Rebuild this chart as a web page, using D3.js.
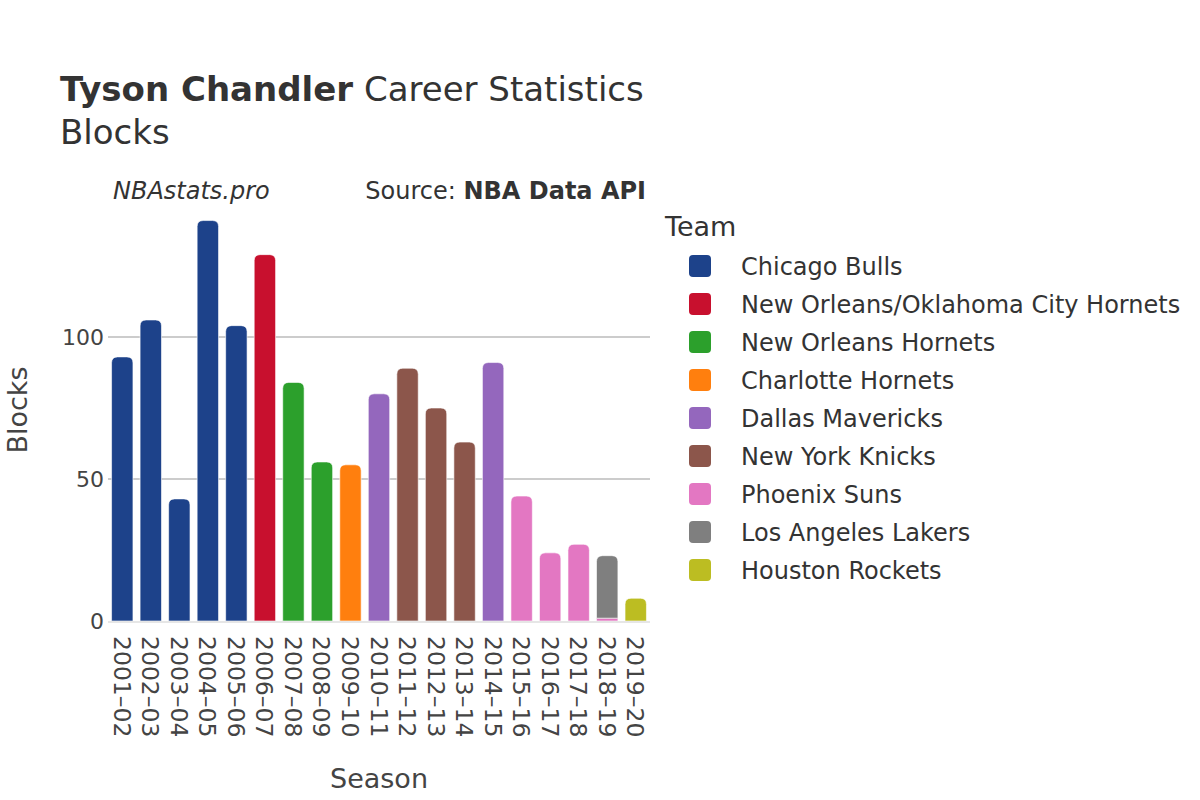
<!DOCTYPE html>
<html>
<head>
<meta charset="utf-8">
<script src="https://cdn.jsdelivr.net/npm/d3@7"></script>
<style>
  html, body { margin: 0; padding: 0; background: #fff; }
  svg { display: block; font-family: "DejaVu Sans", sans-serif; }
</style>
</head>
<body>
<svg id="chart" width="1200" height="800"></svg>
<script>
// ---- data ----
const seasons = ["2001–02","2002–03","2003–04","2004–05","2005–06","2006–07","2007–08","2008–09","2009–10","2010–11","2011–12","2012–13","2013–14","2014–15","2015–16","2016–17","2017–18","2018–19","2019–20"];
const teams = ["Chicago Bulls","New Orleans/Oklahoma City Hornets","New Orleans Hornets","Charlotte Hornets","Dallas Mavericks","New York Knicks","Phoenix Suns","Los Angeles Lakers","Houston Rockets"];
const teamColors = ["#1d428a","#c8102e","#2ca02c","#ff7f0e","#9467bd","#8c564b","#e377c2","#7f7f7f","#bcbd22"];
// blocks per season entry: [season, team, value]
const entrySeason = ["2001–02","2002–03","2003–04","2004–05","2005–06","2006–07","2007–08","2008–09","2009–10","2010–11","2011–12","2012–13","2013–14","2014–15","2015–16","2016–17","2017–18","2018–19","2018–19","2019–20"];
const entryTeam = ["Chicago Bulls","Chicago Bulls","Chicago Bulls","Chicago Bulls","Chicago Bulls","New Orleans/Oklahoma City Hornets","New Orleans Hornets","New Orleans Hornets","Charlotte Hornets","Dallas Mavericks","New York Knicks","New York Knicks","New York Knicks","Dallas Mavericks","Phoenix Suns","Phoenix Suns","Phoenix Suns","Phoenix Suns","Los Angeles Lakers","Houston Rockets"];
const entryBlocks = [93,106,43,141,104,129,84,56,55,80,89,75,63,91,44,24,27,1,22,8];
const yTicks = [0,50,100];

// ---- layout ----
const svg = d3.select("#chart");
const left = 108, right = 650, baseY = 621;
const x = d3.scaleBand().domain(seasons).range([left, right]).paddingInner(0.25).paddingOuter(0.125);
const y = d3.scaleLinear().domain([0, 150]).range([baseY, baseY - 150 * 2.84]);
const color = d3.scaleOrdinal().domain(teams).range(teamColors);

// build stack table
const rows = seasons.map(s => {
  const r = { season: s };
  teams.forEach(t => r[t] = 0);
  return r;
});
entrySeason.forEach((s, i) => { rows[seasons.indexOf(s)][entryTeam[i]] += entryBlocks[i]; });
const stacked = d3.stack().keys(teams)(rows);

// gridlines
svg.append("g").selectAll("line").data(yTicks.filter(d => d > 0)).join("line")
  .attr("x1", left).attr("x2", right)
  .attr("y1", d => y(d)).attr("y2", d => y(d))
  .attr("stroke", "#999").attr("stroke-width", 1);

// y axis labels
svg.append("g").selectAll("text").data(yTicks).join("text")
  .attr("x", 104).attr("y", d => y(d)).attr("dy", "0.36em")
  .attr("text-anchor", "end").attr("font-size", 22).attr("fill", "#444")
  .text(d => d);

// bars
const totals = rows.map(r => teams.reduce((a, t) => a + r[t], 0));
function barPath(x0, w, yTop, yBot, rad) {
  const h = yBot - yTop;
  rad = Math.min(rad, h, w / 2);
  if (rad <= 0) return `M${x0},${yBot}V${yTop}H${x0 + w}V${yBot}Z`;
  return `M${x0},${yBot}V${yTop + rad}Q${x0},${yTop} ${x0 + rad},${yTop}H${x0 + w - rad}Q${x0 + w},${yTop} ${x0 + w},${yTop + rad}V${yBot}Z`;
}
const layer = svg.append("g");
stacked.forEach(ser => {
  ser.forEach((d, i) => {
    if (d[1] - d[0] <= 0) return;
    const isTop = Math.abs(d[1] - totals[i]) < 1e-9;
    const x0 = x(seasons[i]), w = x.bandwidth();
    layer.append("path")
      .attr("d", barPath(x0, w, y(d[1]), y(d[0]), isTop ? 6 : 0))
      .attr("fill", color(ser.key))
      .attr("stroke", "#fff").attr("stroke-width", 0.6);
  });
});

// zero line
svg.append("line").attr("x1", left).attr("x2", right)
  .attr("y1", baseY + 1).attr("y2", baseY + 1)
  .attr("stroke", "#e6e6e6").attr("stroke-width", 2);

// x tick labels
svg.append("g").selectAll("text").data(seasons).join("text")
  .attr("transform", d => `translate(${x(d) + x.bandwidth() / 2},636) rotate(90)`)
  .attr("dy", "0.36em")
  .attr("text-anchor", "start").attr("font-size", 23.5).attr("fill", "#444")
  .text(d => d);

// axis titles
svg.append("text").attr("x", 379).attr("y", 788).attr("text-anchor", "middle")
  .attr("font-size", 27).attr("fill", "#444").text("Season");
svg.append("text").attr("transform", "translate(27,410) rotate(-90)")
  .attr("text-anchor", "middle").attr("font-size", 27).attr("fill", "#444").text("Blocks");

// title
const title = svg.append("text").attr("x", 60).attr("y", 101).attr("font-size", 34).attr("fill", "#333");
title.append("tspan").attr("font-weight", "bold").text("Tyson Chandler");
title.append("tspan").text(" Career Statistics");
svg.append("text").attr("x", 60).attr("y", 144).attr("font-size", 34).attr("fill", "#333").text("Blocks");

// subtitle / source
svg.append("text").attr("x", 113).attr("y", 199).attr("font-size", 24).attr("font-style", "italic")
  .attr("fill", "#333").text("NBAstats.pro");
const src = svg.append("text").attr("x", 646).attr("y", 199).attr("text-anchor", "end")
  .attr("font-size", 24).attr("fill", "#333");
src.append("tspan").text("Source: ");
src.append("tspan").attr("font-weight", "bold").text("NBA Data API");

// legend
svg.append("text").attr("x", 665).attr("y", 236).attr("font-size", 27).attr("fill", "#333").text("Team");
const leg = svg.append("g").selectAll("g").data(teams).join("g")
  .attr("transform", (d, i) => `translate(0,${266 + i * 38})`);
leg.append("rect").attr("x", 689).attr("y", -11).attr("width", 22).attr("height", 22)
  .attr("rx", 4).attr("fill", d => color(d));
leg.append("text").attr("x", 741).attr("dy", "0.36em").attr("font-size", 24).attr("fill", "#333").text(d => d);
</script>
</body>
</html>
